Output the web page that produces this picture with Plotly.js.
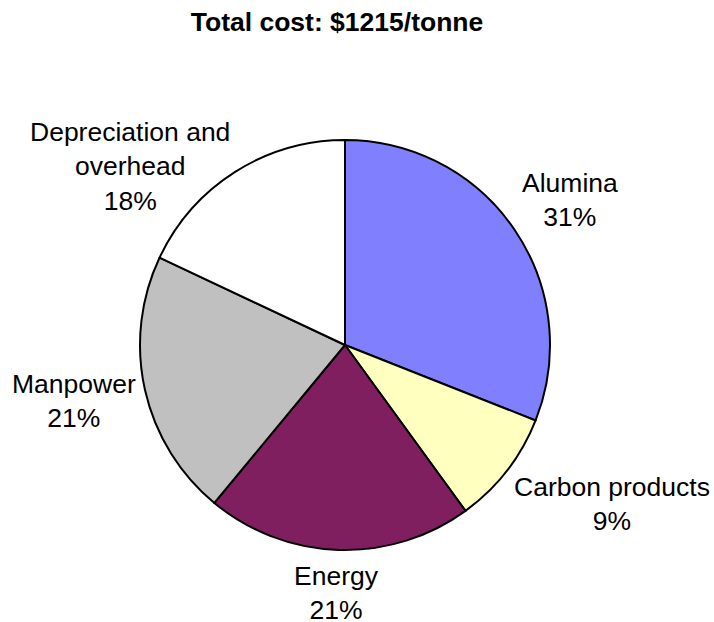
<!DOCTYPE html>
<html>
<head>
<meta charset="utf-8">
<script src="https://cdn.plot.ly/plotly-3.0.1.min.js"></script>
<style>html,body{margin:0;padding:0;background:#fff;}#chart{width:714px;height:622px;}</style>
</head>
<body>
<div id="chart"></div>
<script>
const categories = ["Alumina", "Carbon products", "Energy", "Manpower", "Depreciation and<br>overhead"];
const shares = [31, 9, 21, 21, 18];
const colors = ["#8080FF", "#FFFFC0", "#7F1F5F", "#C0C0C0", "#FFFFFF"];
const chartTitle = "Total cost: $1215/tonne";

const W = 714, H = 622;
const cx = 345, cy = 345, R = 205;
const FONT = "Liberation Sans, Arial, sans-serif";
const FS = 26.5;
const LINE_H = 1.3 * FS;
const GAP = 9, K = 1.3, TOP_LIMIT = 115;

// measure label text to place data labels Excel-style next to each slice
const ctx = document.createElement("canvas").getContext("2d");
ctx.font = FS + "px 'Liberation Sans'";
const total = shares.reduce((a, b) => a + b, 0);
const clamp = v => Math.max(-1, Math.min(1, v));
let cum = 0;
const annotations = categories.map((cat, i) => {
  const pct = Math.round(shares[i] / total * 100) + "%";
  const text = cat + "<br>" + pct;
  const lines = text.split("<br>");
  const hw = Math.max(...lines.map(l => ctx.measureText(l).width)) / 2;
  const hh = lines.length * LINE_H / 2;
  const mid = (cum + shares[i] / 2) / total * 2 * Math.PI;
  cum += shares[i];
  const dx = Math.sin(mid), dy = -Math.cos(mid);
  const px = cx + (R + GAP) * dx, py = cy + (R + GAP) * dy;
  let sx = clamp(K * dx), sy = clamp(K * dy);
  let x = px + hw * sx, y = py + hh * sy;
  if (y - hh < TOP_LIMIT) { y = TOP_LIMIT + hh; x = px + hw * Math.sign(dx); }
  return {
    text: text, x: x / W, y: 1 - y / H, xref: "paper", yref: "paper",
    xanchor: "center", yanchor: "middle", showarrow: false, align: "center",
    font: {family: FONT, size: FS, color: "#000"}
  };
});

const trace = {
  type: "pie",
  labels: categories,
  values: shares,
  sort: false,
  direction: "clockwise",
  rotation: 0,
  marker: {colors: colors, line: {color: "#000000", width: 2}},
  textinfo: "none",
  hoverinfo: "label+percent",
  showlegend: false,
  domain: {x: [(cx - R) / W, (cx + R) / W], y: [(H - cy - R) / H, (H - cy + R) / H]}
};

const layout = {
  width: W, height: H,
  margin: {l: 0, r: 0, t: 0, b: 0},
  paper_bgcolor: "#fff",
  title: {text: "<b>" + chartTitle + "</b>", x: 337 / W, xanchor: "center", y: 1 - 22 / H, yanchor: "middle",
          font: {family: FONT, size: 26.5, color: "#000"}},
  font: {family: FONT, size: FS, color: "#000"},
  annotations: annotations
};

Plotly.newPlot("chart", [trace], layout, {displayModeBar: false, staticPlot: true});
</script>
</body>
</html>
